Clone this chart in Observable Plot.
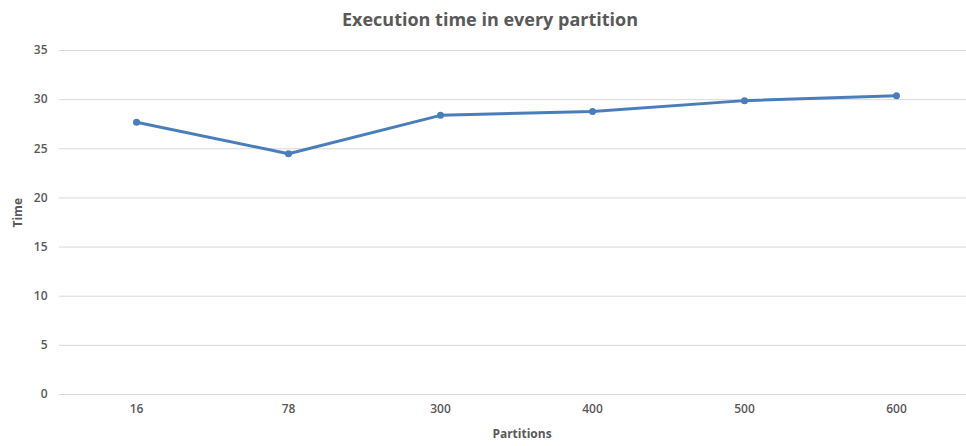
<!DOCTYPE html>
<html>
<head>
<meta charset="utf-8">
<script src="https://cdn.jsdelivr.net/npm/d3@7"></script>
<script src="https://cdn.jsdelivr.net/npm/@observablehq/plot@0.6"></script>
<style>
  html, body { margin: 0; padding: 0; background: #fff; }
  body { width: 966px; height: 446px; overflow: hidden; font-family: "Open Sans", sans-serif; }
  #title { height: 36px; line-height: 38px; text-align: center; font-size: 18px; font-weight: bold; color: #595959; padding-left: 14px; box-sizing: border-box; }
</style>
</head>
<body>
<div id="title">Execution time in every partition</div>
<div id="chart"></div>
<script>
const partitions = ["16", "78", "300", "400", "500", "600"];
const times = [27.7, 24.5, 28.4, 28.8, 29.9, 30.4];
const yTicks = [0, 5, 10, 15, 20, 25, 30, 35];

const data = partitions.map((p, i) => ({partition: p, time: times[i]}));
const font = '"Open Sans", sans-serif';

const chart = Plot.plot({
  width: 966,
  height: 410,
  marginLeft: 59,
  marginRight: 0,
  marginTop: 14,
  marginBottom: 52,
  style: {fontFamily: font, fontSize: "12px", color: "#595959", background: "#fff"},
  x: {type: "point", domain: partitions, range: [134, 897], padding: 0},
  y: {domain: [0, 35]},
  marks: [
    Plot.gridY(yTicks, {stroke: "#d9d9d9", strokeOpacity: 1, strokeWidth: 1}),
    Plot.axisY(yTicks, {tickSize: 0, tickPadding: 12, label: null, fill: "#595959", fontWeight: 600}),
    Plot.axisX({tickSize: 0, tickPadding: 10, label: null, fill: "#595959", fontWeight: 600}),
    Plot.text(["Time"], {frameAnchor: "left", dx: -41, dy: 5, rotate: -90, fontWeight: "bold", fontSize: 12, fill: "#595959"}),
    Plot.text(["Partitions"], {frameAnchor: "bottom", dx: 9, dy: 43, fontWeight: "bold", fontSize: 12, fill: "#595959"}),
    Plot.line(data, {x: "partition", y: "time", stroke: "#4a7ebb", strokeWidth: 3}),
    Plot.dot(data, {x: "partition", y: "time", fill: "#4a7ebb", r: 3.5})
  ]
});
document.getElementById("chart").appendChild(chart);
</script>
</body>
</html>
